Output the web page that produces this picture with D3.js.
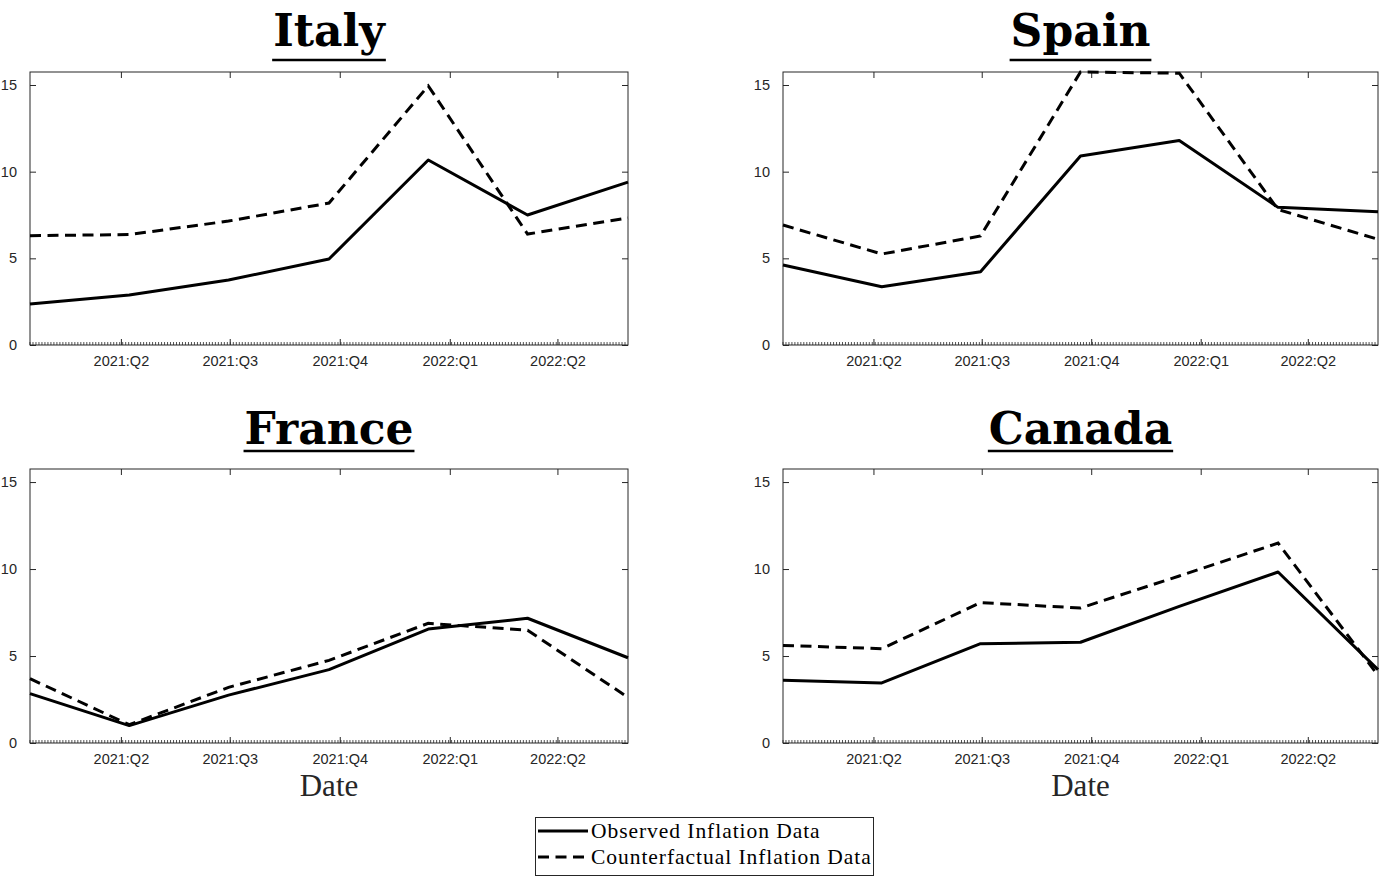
<!DOCTYPE html>
<html>
<head>
<meta charset="utf-8">
<script src="https://cdn.jsdelivr.net/npm/d3@7"></script>
<style>
  html, body { margin: 0; padding: 0; background: #fff; }
  svg { display: block; }
</style>
</head>
<body>
<svg id="chart" width="1383" height="876"></svg>
<script>
// Datos
var dates = ["2021-01-15", "2021-04-08", "2021-06-30", "2021-09-22", "2021-12-14", "2022-03-07", "2022-05-30"];
var countries = ["Italy", "Spain", "France", "Canada"];
var quarterTicks = ["2021-04-01", "2021-07-01", "2021-10-01", "2022-01-01", "2022-04-01"];
var quarterLabels = ["2021:Q2", "2021:Q3", "2021:Q4", "2022:Q1", "2022:Q2"];
var yTicks = [0, 5, 10, 15];
var seriesNames = ["Observed Inflation Data", "Counterfactual Inflation Data"];

var italyObserved = [2.37, 2.88, 3.75, 4.96, 10.67, 7.5, 9.4];
var italyCounterfactual = [6.31, 6.37, 7.15, 8.19, 14.95, 6.4, 7.33];
var spainObserved = [4.62, 3.36, 4.23, 10.9, 11.8, 7.94, 7.69];
var spainCounterfactual = [6.92, 5.25, 6.29, 15.75, 15.68, 7.82, 6.1];
var franceObserved = [2.84, 1.0, 2.75, 4.22, 6.55, 7.17, 4.9];
var franceCounterfactual = [3.7, 1.05, 3.2, 4.75, 6.88, 6.48, 2.62];
var canadaObserved = [3.6, 3.45, 5.71, 5.79, 7.85, 9.83, 4.22];
var canadaCounterfactual = [5.61, 5.42, 8.07, 7.76, 9.6, 11.49, 3.89];

var observedByCountry = [italyObserved, spainObserved, franceObserved, canadaObserved];
var counterByCountry = [italyCounterfactual, spainCounterfactual, franceCounterfactual, canadaCounterfactual];

var parse = d3.timeParse("%Y-%m-%d");
var xDates = dates.map(parse);
var qDates = quarterTicks.map(parse);

// Layout de paneles
var panels = [
  { x0: 30, x1: 628, y0: 72, y1: 345, titleY: 46 },
  { x0: 783, x1: 1378, y0: 72, y1: 345, titleY: 46 },
  { x0: 30, x1: 628, y0: 469, y1: 743, titleY: 444 },
  { x0: 783, x1: 1378, y0: 469, y1: 743, titleY: 444 }
];

var axisColor = "#262626";
var dash = "11,6.5";
var yMax = d3.max(observedByCountry.concat(counterByCountry), function (a) { return d3.max(a); });

var svg = d3.select("#chart");

panels.forEach(function (p, k) {
  var x = d3.scaleTime().domain(d3.extent(xDates)).range([p.x0, p.x1]);
  var y = d3.scaleLinear().domain([0, yMax]).range([p.y1, p.y0]);
  var g = svg.append("g");

  // Caja
  g.append("rect")
    .attr("x", p.x0).attr("y", p.y0)
    .attr("width", p.x1 - p.x0).attr("height", p.y1 - p.y0)
    .attr("fill", "none").attr("stroke", axisColor).attr("stroke-width", 1);

  // Ticks menores (abajo)
  var minor = d3.range(x.domain()[0].getTime(), x.domain()[1].getTime(), 2.5 * 864e5)
    .map(function (t) { return new Date(t); });
  g.append("g").selectAll("line").data(minor).enter().append("line")
    .attr("x1", function (d) { return x(d); }).attr("x2", function (d) { return x(d); })
    .attr("y1", p.y1).attr("y2", p.y1 - 3)
    .attr("stroke", axisColor).attr("stroke-width", 0.8);

  // Ejes con d3
  var bottom = d3.axisBottom(x).tickValues(qDates).tickSizeInner(-6).tickSizeOuter(0)
    .tickFormat(function (d, i) { return quarterLabels[i]; }).tickPadding(11);
  var top = d3.axisTop(x).tickValues(qDates).tickSizeInner(-6).tickSizeOuter(0).tickFormat("");
  var left = d3.axisLeft(y).tickValues(yTicks).tickSizeInner(-6).tickSizeOuter(0).tickPadding(13);
  var right = d3.axisRight(y).tickValues(yTicks).tickSizeInner(-6).tickSizeOuter(0).tickFormat("");

  [[bottom, "translate(0," + p.y1 + ")"], [top, "translate(0," + p.y0 + ")"],
   [left, "translate(" + p.x0 + ",0)"], [right, "translate(" + p.x1 + ",0)"]].forEach(function (a) {
    var ag = g.append("g").attr("transform", a[1]).call(a[0]);
    ag.select(".domain").remove();
    ag.selectAll("line").attr("stroke", axisColor);
    ag.selectAll("text").attr("fill", axisColor)
      .style("font-family", "'Liberation Sans', Arial, sans-serif").style("font-size", "14.5px");
  });

  // Líneas
  var line = d3.line()
    .x(function (d, i) { return x(xDates[i]); })
    .y(function (d) { return y(d); });

  g.append("path").datum(counterByCountry[k])
    .attr("d", line).attr("fill", "none").attr("stroke", "#000")
    .attr("stroke-width", 3).attr("stroke-dasharray", dash);
  g.append("path").datum(observedByCountry[k])
    .attr("d", line).attr("fill", "none").attr("stroke", "#000")
    .attr("stroke-width", 3).attr("stroke-linejoin", "round");

  // Título subrayado
  var cx = (p.x0 + p.x1) / 2;
  var t = g.append("text")
    .attr("x", cx).attr("y", p.titleY)
    .attr("text-anchor", "middle")
    .style("font-family", "'DejaVu Serif', serif")
    .style("font-weight", "bold").style("font-size", "44px")
    .text(countries[k]);
  var w = t.node().getComputedTextLength();
  var uy = p.titleY + (/[gjpqy]/.test(countries[k]) ? 14 : 7);
  g.append("line")
    .attr("x1", cx - w / 2 - 1).attr("x2", cx + w / 2 + 1)
    .attr("y1", uy).attr("y2", uy)
    .attr("stroke", "#000").attr("stroke-width", 2.5);

  // Etiqueta Date (fila inferior)
  if (k >= 2) {
    g.append("text")
      .attr("x", cx).attr("y", p.y1 + 53)
      .attr("text-anchor", "middle").attr("fill", axisColor)
      .style("font-family", "'Liberation Serif', serif").style("font-size", "31px")
      .text("Date");
  }
});

// Leyenda
var legend = svg.append("g").attr("transform", "translate(535,817)");
legend.append("rect")
  .attr("x", 0.5).attr("y", 0.5).attr("width", 338).attr("height", 58)
  .attr("fill", "#fff").attr("stroke", axisColor).attr("stroke-width", 1);

var items = legend.selectAll(".legend").data(seriesNames).enter().append("g")
  .attr("class", "legend")
  .attr("transform", function (d, i) { return "translate(0," + (14 + i * 26) + ")"; });

items.append("line")
  .attr("x1", 3).attr("x2", 53).attr("y1", 0).attr("y2", 0)
  .attr("stroke", "#000").attr("stroke-width", 3)
  .attr("stroke-dasharray", function (d, i) { return i === 1 ? dash : null; });

items.append("text")
  .attr("x", 56).attr("y", 7)
  .style("font-family", "'Liberation Serif', serif").style("font-size", "21.5px")
  .style("letter-spacing", "0.95px")
  .attr("fill", "#000")
  .text(function (d) { return d; });
</script>
</body>
</html>
